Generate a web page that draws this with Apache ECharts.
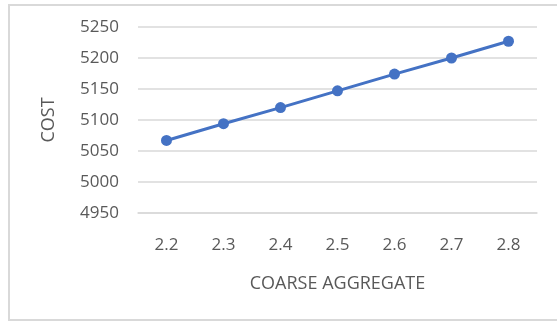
<!DOCTYPE html>
<html>
<head>
<meta charset="utf-8">
<script src="https://cdn.jsdelivr.net/npm/echarts@6/dist/echarts.min.js"></script>
<style>
  html, body { margin: 0; padding: 0; background: #fff; }
  #frame { position: absolute; left: 8px; top: 4px; width: 560px; height: 317px;
           border-top: 2px solid #d9d9d9; border-left: 2px solid #d9d9d9; border-bottom: 2px solid #d9d9d9; box-sizing: border-box; }
  #chart { position: absolute; left: 0; top: 0; width: 557px; height: 322px; }
</style>
</head>
<body>
<div id="frame"></div>
<div id="chart"></div>
<script>
// Coarse aggregate ratio vs. cost
const categories = ['2.2', '2.3', '2.4', '2.5', '2.6', '2.7', '2.8'];
const costValues = [5067, 5094, 5120, 5147, 5174, 5200, 5227];
const yTicks = { min: 4950, max: 5250, step: 50 };

const textColor = '#595959';
const fontFamily = '"Open Sans", "Noto Sans", sans-serif';

const chart = echarts.init(document.getElementById('chart'), null, { renderer: 'canvas' });
chart.setOption({
  animation: false,
  grid: { left: 138, right: 20, top: 27, bottom: 109, containLabel: false },
  xAxis: {
    type: 'category',
    data: categories,
    boundaryGap: true,
    name: 'COARSE AGGREGATE',
    nameLocation: 'middle',
    nameGap: 62,
    nameTextStyle: { color: textColor, fontSize: 18, fontFamily },
    axisLine: { show: true, lineStyle: { color: '#d9d9d9', width: 1.5 } },
    axisTick: { show: false },
    axisLabel: { color: textColor, fontSize: 17, fontFamily, margin: 24 }
  },
  yAxis: {
    type: 'value',
    min: yTicks.min,
    max: yTicks.max,
    interval: yTicks.step,
    name: 'COST',
    nameLocation: 'middle',
    nameGap: 80,
    nameRotate: 90,
    nameTextStyle: { color: textColor, fontSize: 18, fontFamily },
    axisLine: { show: false },
    axisTick: { show: false },
    axisLabel: { color: textColor, fontSize: 17, fontFamily, margin: 19, formatter: v => String(v) },
    splitLine: { lineStyle: { color: '#d9d9d9', width: 1.5 } }
  },
  series: [{
    type: 'line',
    data: costValues,
    symbol: 'circle',
    symbolSize: 11,
    lineStyle: { color: '#4472c4', width: 3 },
    itemStyle: { color: '#4472c4' }
  }]
});
</script>
</body>
</html>
